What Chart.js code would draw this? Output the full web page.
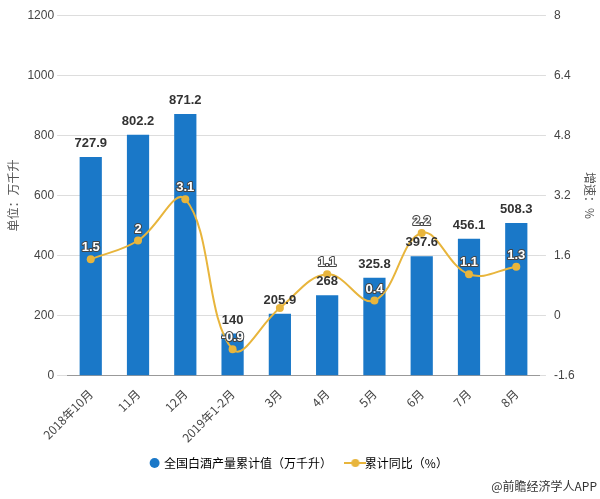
<!DOCTYPE html>
<html>
<head>
<meta charset="utf-8">
<script src="https://cdn.jsdelivr.net/npm/chart.js@4.4.0/dist/chart.umd.min.js"></script>
<style>
  body { margin: 0; background: #fff; }
  #wrap { position: relative; width: 600px; height: 499px; }
  #credit { position: absolute; right: 3px; bottom: 5px; font: 12px "Noto Sans CJK SC", sans-serif; color: #333; }
</style>
</head>
<body>
<div id="wrap">
  <canvas id="myChart" width="600" height="499"></canvas>
  <div id="credit">@前瞻经济学人APP</div>
</div>
<script>
// data
let months = ["2018年10月", "11月", "12月", "2019年1-2月", "3月", "4月", "5月", "6月", "7月", "8月"];
let output = [727.9, 802.2, 871.2, 140, 205.9, 268, 325.8, 397.6, 456.1, 508.3];
let growth = [1.5, 2, 3.1, -0.9, 0.2, 1.1, 0.4, 2.2, 1.1, 1.3];
let leftTicks = [0, 200, 400, 600, 800, 1000, 1200];
let rightTicks = [-1.6, 0, 1.6, 3.2, 4.8, 6.4, 8];

const BLUE = '#1a78c8';
const GOLD = '#e8b53c';
const NUMFONT = '"Liberation Sans", Arial, sans-serif';
const CJKFONT = '"Noto Sans CJK SC", sans-serif';

// little line-with-dot icon for the legend
let lineIcon = document.createElement('canvas');
lineIcon.width = 22; lineIcon.height = 10;
let lc = lineIcon.getContext('2d');
lc.strokeStyle = GOLD; lc.lineWidth = 2;
lc.beginPath(); lc.moveTo(0, 5); lc.lineTo(22, 5); lc.stroke();
lc.fillStyle = GOLD;
lc.beginPath(); lc.arc(11, 5, 4, 0, Math.PI * 2); lc.fill();

// value labels above bars and on the line points
const valueLabels = {
  id: 'valueLabels',
  afterDatasetsDraw(chart) {
    let ctx = chart.ctx;
    ctx.save();
    ctx.textAlign = 'center';
    ctx.textBaseline = 'bottom';
    ctx.font = 'bold 13px ' + NUMFONT;
    chart.getDatasetMeta(0).data.forEach(function(bar, i) {
      ctx.fillStyle = '#333';
      ctx.fillText(output[i], bar.x, bar.y - 7);
    });
    chart.getDatasetMeta(1).data.forEach(function(pt, i) {
      if (i == 4) return; // hidden under the bar label in the original
      ctx.lineWidth = 2;
      ctx.lineJoin = 'round';
      ctx.strokeStyle = '#444';
      ctx.strokeText(growth[i], pt.x, pt.y - 5);
      ctx.fillStyle = '#fff';
      ctx.fillText(growth[i], pt.x, pt.y - 5);
    });
    ctx.restore();
  }
};

const ctx = document.getElementById('myChart');

new Chart(ctx, {
  data: {
    labels: months,
    datasets: [{
      type: 'bar',
      label: '全国白酒产量累计值（万千升）',
      data: output,
      backgroundColor: BLUE,
      barPercentage: 0.47,
      categoryPercentage: 1,
      yAxisID: 'y',
      order: 2
    }, {
      type: 'line',
      label: '累计同比（%）',
      data: growth,
      borderColor: GOLD,
      backgroundColor: GOLD,
      borderWidth: 2,
      pointRadius: 4,
      pointBackgroundColor: GOLD,
      pointBorderWidth: 0,
      tension: 0.4,
      yAxisID: 'y1',
      order: 1
    }]
  },
  options: {
    responsive: false,
    animation: false,
    layout: { padding: { top: 8, right: 3, left: 2, bottom: 20 } },
    plugins: {
      tooltip: { enabled: false },
      legend: {
        position: 'bottom',
        labels: {
          font: { size: 12, family: CJKFONT },
          color: '#333',
          usePointStyle: true,
          boxWidth: 7,
          boxHeight: 7,
          padding: 9,
          generateLabels: function(chart) {
            return [
              { text: '全国白酒产量累计值（万千升）    ', pointStyle: 'circle', fillStyle: BLUE, strokeStyle: BLUE, lineWidth: 0, datasetIndex: 0 },
              { text: '累计同比（%）', pointStyle: lineIcon, fillStyle: GOLD, strokeStyle: GOLD, lineWidth: 0, datasetIndex: 1 }
            ];
          }
        }
      }
    },
    scales: {
      x: {
        grid: { display: false },
        border: { color: '#999' },
        ticks: {
          maxRotation: 45, minRotation: 45,
          color: '#444',
          font: { size: 12, family: CJKFONT }
        }
      },
      y: {
        position: 'left',
        min: 0, max: 1200,
        afterBuildTicks: function(axis) { axis.ticks = leftTicks.map(function(v) { return { value: v }; }); },
        grid: { color: '#ddd', tickLength: 10 },
        border: { display: false },
        ticks: { color: '#444', padding: 3, font: { size: 12, family: NUMFONT }, callback: function(v) { return String(v); } },
        title: { display: true, text: '单位：万千升', color: '#555', font: { size: 12, family: CJKFONT } }
      },
      y1: {
        position: 'right',
        min: -1.6, max: 8,
        afterBuildTicks: function(axis) { axis.ticks = rightTicks.map(function(v) { return { value: v }; }); },
        grid: { color: '#ddd', drawOnChartArea: false, tickLength: 6 },
        border: { display: false },
        ticks: { color: '#444', padding: 8, font: { size: 12, family: NUMFONT }, callback: function(v) { return String(v); } },
        title: { display: true, text: '增速：%', color: '#555', padding: 0, font: { size: 12, family: CJKFONT } }
      }
    }
  },
  plugins: [valueLabels]
});
</script>
</body>
</html>
